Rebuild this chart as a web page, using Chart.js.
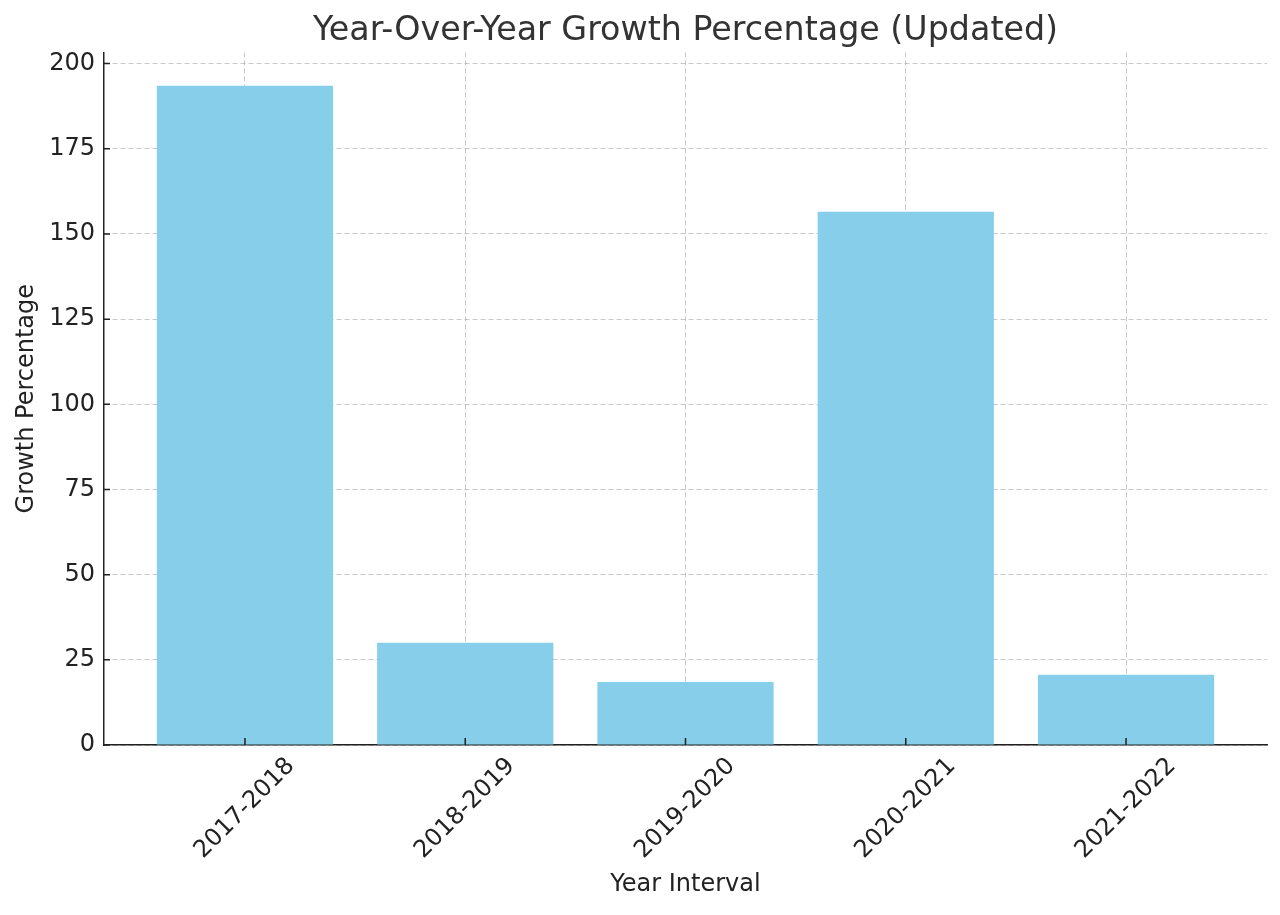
<!DOCTYPE html>
<html>
<head>
<meta charset="utf-8">
<script src="https://cdn.jsdelivr.net/npm/chart.js@4"></script>
<style>
  html, body { margin: 0; padding: 0; background: #fff; }
  #wrap { width: 1280px; height: 915px; }
</style>
</head>
<body>
<div id="wrap"><canvas id="growthChart"></canvas></div>
<script>
const intervals = ['2017-2018', '2018-2019', '2019-2020', '2020-2021', '2021-2022'];
const growthPct = [193.5, 30.0, 18.5, 156.5, 20.6];
const yTicks = [0, 25, 50, 75, 100, 125, 150, 175, 200];

const FONT = 'DejaVu Sans';

// short ticks pointing into the plot, like the matplotlib original
const innerTicks = {
  id: 'innerTicks',
  afterDraw(chart) {
    const ctx = chart.ctx;
    const xs = chart.scales.x, ys = chart.scales.y;
    ctx.save();
    ctx.strokeStyle = '#222';
    ctx.lineWidth = 1.5;
    ctx.beginPath();
    intervals.forEach((_, i) => {
      const px = xs.getPixelForValue(i);
      ctx.moveTo(px, ys.bottom);
      ctx.lineTo(px, ys.bottom - 7);
    });
    yTicks.forEach(v => {
      const py = ys.getPixelForValue(v);
      ctx.moveTo(xs.left, py);
      ctx.lineTo(xs.left + 6, py);
    });
    ctx.stroke();
    ctx.restore();
  }
};

const growthData = {
  datasets: [{
    label: 'Growth Percentage',
    data: growthPct.map((v, i) => ({ x: i, y: v })),
    backgroundColor: '#87CEEB',
    borderWidth: 0,
    barPercentage: 0.8,
    categoryPercentage: 1.0
  }]
};

const growthConfig = {
  type: 'bar',
  data: growthData,
  options: {
    responsive: true,
    maintainAspectRatio: false,
    animation: false,
    layout: { padding: { left: 0, right: 13, top: 0, bottom: 0 } },
    plugins: {
      legend: { display: false },
      tooltip: { enabled: false },
      title: {
        display: true,
        fullSize: false,   // centre over the plot area, not the canvas
        text: 'Year-Over-Year Growth Percentage (Updated)',
        color: '#333',
        font: { family: FONT, size: 33.3, weight: 'normal' },
        padding: { top: 11, bottom: 1.4 }
      }
    },
    scales: {
      x: {
        type: 'linear',
        min: -0.64,
        max: 4.64,
        offset: false,
        z: 1,
        afterBuildTicks: (scale) => { scale.ticks = intervals.map((_, i) => ({ value: i })); },
        afterFit: (scale) => { scale.height = 170; },
        ticks: {
          callback: (v) => intervals[v] ?? '',
          minRotation: 45,
          maxRotation: 45,
          color: '#222',
          padding: 7,
          labelOffset: 46,
          font: { family: FONT, size: 24 }
        },
        grid: {
          offset: false,
          color: 'rgba(176,176,176,0.7)',
          lineWidth: 1,
          tickLength: 0
        },
        border: { display: true, color: '#222', width: 1.5, dash: [5, 3] },
        title: {
          display: true,
          text: 'Year Interval',
          color: '#222',
          font: { family: FONT, size: 24 },
          padding: { top: 0, bottom: 15.6 }
        }
      },
      y: {
        min: 0,
        max: 203.3,
        z: 1,
        afterBuildTicks: (scale) => { scale.ticks = yTicks.map(v => ({ value: v })); },
        afterFit: (scale) => { scale.width = 104; },
        ticks: {
          color: '#222',
          padding: 9,
          font: { family: FONT, size: 24 }
        },
        grid: {
          color: 'rgba(176,176,176,0.7)',
          lineWidth: 1,
          tickLength: 0
        },
        border: { display: true, color: '#222', width: 1.5, dash: [5, 3] },
        title: {
          display: true,
          text: 'Growth Percentage',
          color: '#222',
          font: { family: FONT, size: 24 },
          padding: { top: 12.6, bottom: 0 }
        }
      }
    }
  },
  plugins: [innerTicks]
};

const growthChart = new Chart(document.getElementById('growthChart'), growthConfig);
</script>
</body>
</html>
